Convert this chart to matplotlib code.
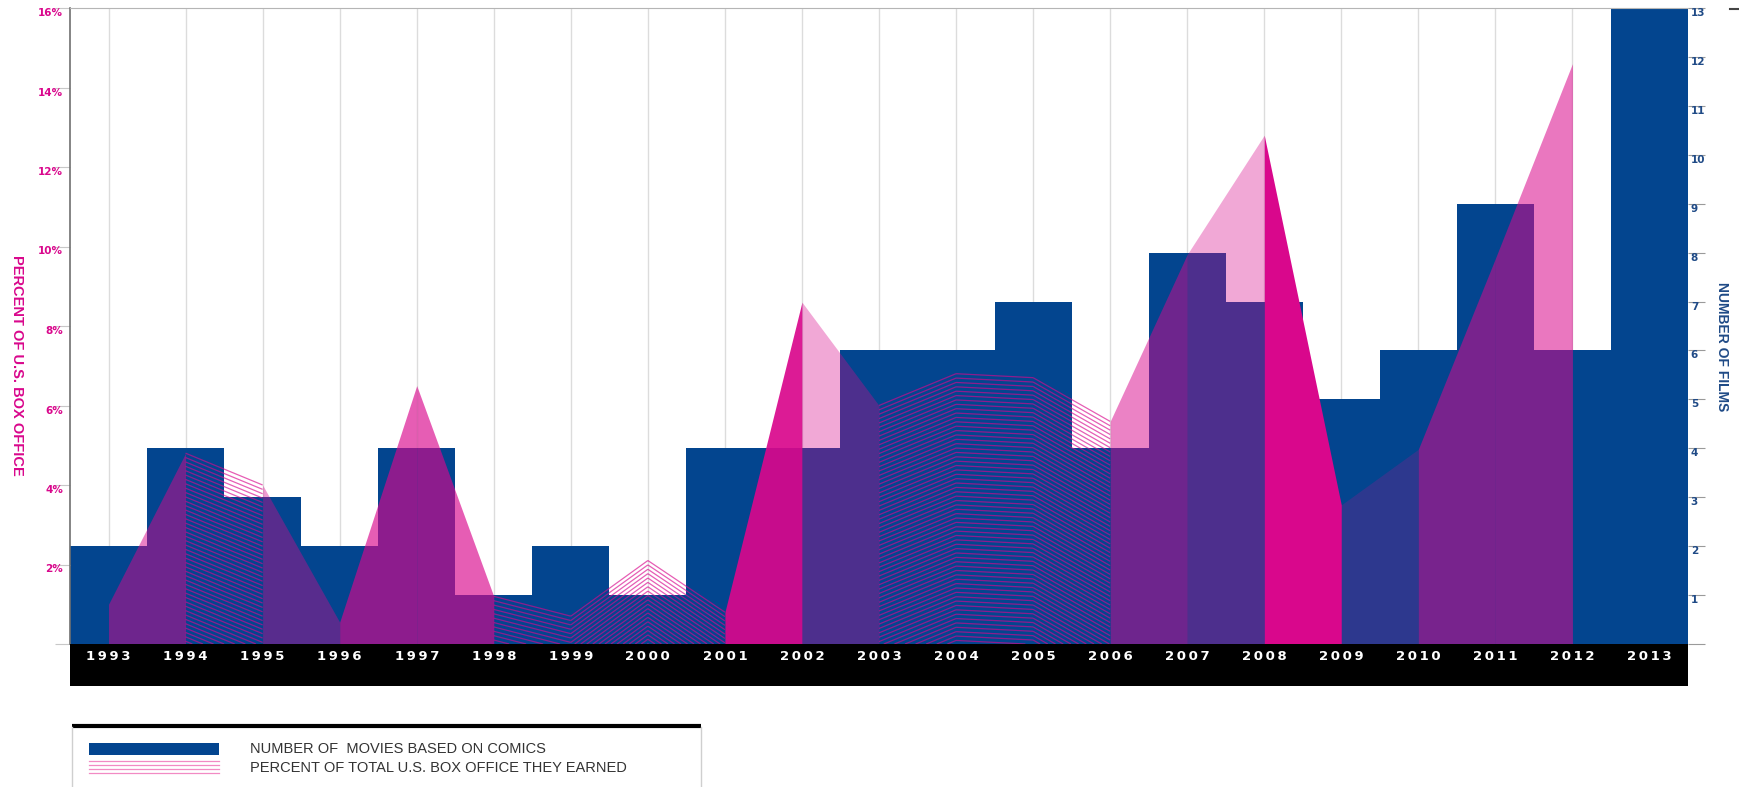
import numpy as np
import matplotlib
matplotlib.use("Agg")
import matplotlib.pyplot as plt
from matplotlib.collections import LineCollection
from matplotlib.patches import Rectangle
from matplotlib import font_manager

# --- data ---
years = np.arange(1993, 2014)
films = [2, 4, 3, 2, 4, 1, 2, 1, 4, 4, 6, 6, 7, 4, 8, 7, 5, 6, 9, 6, 13]

pct_years = np.arange(1993, 2013)
pct = [1.0, 4.8, 4.0, 0.55, 6.5, 1.2, 0.7, 2.1, 0.8, 8.6,
       6.0, 6.8, 6.7, 5.6, 9.8, 12.8, 3.5, 4.9, 9.7, 14.6]

pct_ticks = [0, 2, 4, 6, 8, 10, 12, 14, 16]
pct_labels = [""] + [f"{v}%" for v in pct_ticks[1:]]
film_ticks = list(range(0, 14))
film_labels = [""] + [str(v) for v in film_ticks[1:]]

legend_labels = ["NUMBER OF  MOVIES BASED ON COMICS",
                 "PERCENT OF TOTAL U.S. BOX OFFICE THEY EARNED"]

# shading of each year-to-year stretch of the percent area
seg_kind = ["fill", "lines", "fill", "fill", "fill", "lines", "lines", "lines", "fill", "fill",
            "lines", "lines", "lines", "fill", "fill", "fill", "fill", "fill", "fill"]
seg_alpha = [0.5, 0, 0.4, 0.65, 0.65, 0, 0, 0, 0.92, 0.35,
             0, 0, 0, 0.5, 0.35, 1.0, 0.2, 0.55, 0.55]
LINE_STEP = 0.11

BLUE = "#03458f"
NAVY = "#1f4a86"
MAGENTA = "#d9078c"

names = {f.name for f in font_manager.fontManager.ttflist}
NARROW = "Liberation Sans Narrow" if "Liberation Sans Narrow" in names else "Liberation Sans"

W, H = 1739, 787
fig = plt.figure(figsize=(W / 100, H / 100), dpi=100)

# films axis (bars) underneath, percent axis on top of it
ax = fig.add_axes([70 / W, 143 / H, 1618 / W, 636 / H])
axp = ax.twinx()

ax.bar(years, films, width=1.0, color=BLUE, linewidth=0, zorder=2)
ax.set_xlim(1992.5, 2013.5)
ax.set_ylim(0, 13)
ax.set_xticks(years)
ax.grid(axis="x", color="#dcdcdc", linewidth=1)
ax.set_axisbelow(True)
ax.tick_params(axis="x", length=0, labelbottom=False)
ax.yaxis.tick_right()
ax.set_yticks(film_ticks, film_labels)
ax.tick_params(axis="y", direction="out", length=12, width=0.8, color="#9a9a9a",
               pad=-10, labelsize=7.5, labelcolor=NAVY)
plt.setp(ax.get_yticklabels(), va="top", fontweight="bold")
for s in ax.spines.values():
    s.set_visible(False)

axp.set_ylim(0, 16)
axp.yaxis.tick_left()
axp.set_yticks(pct_ticks, pct_labels)
axp.tick_params(axis="y", direction="out", length=11, width=0.8, color="#c8c8c8",
                pad=-6, labelsize=7.5, labelcolor=MAGENTA)
plt.setp(axp.get_yticklabels(), va="top", fontweight="bold")
axp.spines["left"].set_color("#707070")
axp.spines["left"].set_linewidth(1.2)
axp.spines["top"].set_color("#b5b5b5")
axp.spines["right"].set_visible(False)
axp.spines["bottom"].set_visible(False)

# percent area, one stretch at a time
for i in range(len(pct) - 1):
    x0, x1 = pct_years[i], pct_years[i + 1]
    y0, y1 = pct[i], pct[i + 1]
    if seg_kind[i] == "fill":
        axp.fill_between([x0, x1], [0, 0], [y0, y1], color=MAGENTA,
                         alpha=seg_alpha[i], linewidth=0)
    else:
        # stacked copies of the top edge, stepped down to the baseline
        segs = []
        k = 0
        while True:
            a, b = y0 - k * LINE_STEP, y1 - k * LINE_STEP
            if a < 0 and b < 0:
                break
            if a < 0:
                xa = x0 + (x1 - x0) * (-a) / (b - a)
                segs.append([(xa, 0), (x1, b)])
            elif b < 0:
                xb = x0 + (x1 - x0) * a / (a - b)
                segs.append([(x0, a), (xb, 0)])
            else:
                segs.append([(x0, a), (x1, b)])
            k += 1
        axp.add_collection(LineCollection(segs, colors=MAGENTA, linewidths=0.9, alpha=0.65))

# black year band
band = fig.add_axes([70 / W, 101 / H, 1618 / W, 42 / H])
band.set_facecolor("black")
band.set_xlim(1992.5, 2013.5)
band.set_ylim(0, 1)
band.set_xticks([])
band.set_yticks([])
for s in band.spines.values():
    s.set_visible(False)
for y in years:
    band.text(y, 0.7, "\u2009".join(str(y)), ha="center", va="center",
              color="white", fontweight="bold", fontsize=9.5)

# axis titles
fig.text(17 / W, 1 - 365 / H, "PERCENT OF U.S. BOX OFFICE", rotation=270,
         ha="center", va="center", color=MAGENTA, fontweight="bold",
         fontsize=10.5, family=NARROW)
fig.text(1722 / W, 1 - 347 / H, "NUMBER OF FILMS", rotation=270,
         ha="center", va="center", color=NAVY, fontweight="bold",
         fontsize=10, family=NARROW)

# legend box, laid out in pixel units
leg = fig.add_axes([0, 0, 1, 1])
leg.set_xlim(0, W)
leg.set_ylim(H, 0)
leg.axis("off")
leg.plot([72, 701], [726, 726], color="black", linewidth=3, solid_capstyle="butt")
leg.plot([72, 72], [727, H], color="#cfcfcf", linewidth=1)
leg.plot([701, 701], [727, H], color="#cfcfcf", linewidth=1)
leg.plot([1730, 1739], [9, 9], color="#444444", linewidth=1.5)
leg.add_patch(Rectangle((89, 743), 130, 12, color=BLUE, linewidth=0))
for ly in [761, 765, 769, 773]:
    leg.plot([89, 219], [ly, ly], color="#f28ac4", linewidth=0.9)
leg.text(250, 749, legend_labels[0], ha="left", va="center", color="#333333",
         fontsize=10.5, family=NARROW)
leg.text(250, 768, legend_labels[1], ha="left", va="center", color="#333333",
         fontsize=10.5, family=NARROW)

fig.savefig("out.png", dpi=100, facecolor="white")
